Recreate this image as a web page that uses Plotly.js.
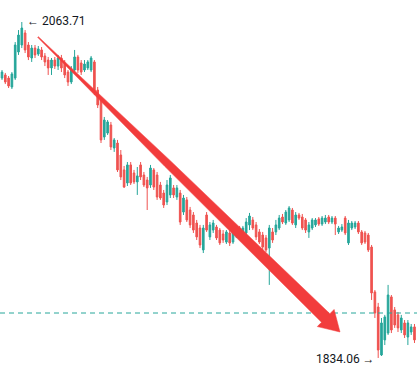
<!DOCTYPE html>
<html>
<head>
<meta charset="utf-8">
<script src="https://cdn.plot.ly/plotly-3.0.1.min.js"></script>
<style>html,body{margin:0;padding:0;background:#fff;}#chart{width:417px;height:380px;}</style>
</head>
<body>
<div id="chart"></div>
<script>
// OHLC price data (one candle per bar)
const opens = [2025.4,2027.5,2025.4,2019.3,2025.4,2043.2,2048.0,2056.2,2048.0,2039.1,
2045.9,2041.8,2044.6,2040.5,2037.7,2032.3,2037.7,2033.6,2039.1,2035.7,
2029.5,2022.7,2030.9,2039.8,2035.7,2030.9,2032.3,2030.9,2036.4,2017.2,
2010.4,1985.1,1987.8,1993.3,1977.6,1981.0,1972.8,1962.6,1953.7,1966.0,
1960.5,1954.4,1966.0,1959.1,1955.7,1952.3,1962.6,1959.1,1952.3,1946.8,
1940.7,1945.5,1950.3,1944.1,1946.8,1933.8,1942.1,1935.2,1931.8,1926.3,
1922.9,1907.9,1931.8,1916.8,1921.5,1923.6,1921.5,1918.8,1913.3,1919.5,
1913.3,1917.4,1922.9,1918.1,1919.5,1925.0,1928.4,1925.0,1920.2,1918.1,
1916.1,1909.2,1920.2,1920.2,1922.9,1930.4,1926.3,1928.4,1935.2,1925.0,
1931.8,1930.4,1928.4,1920.2,1922.9,1925.0,1929.1,1925.6,1927.0,1930.4,
1927.0,1929.7,1920.2,1921.5,1929.7,1912.7,1922.9,1923.6,1926.3,1920.2,
1919.5,1918.1,1909.9,1879.2,1868.9,1836.1,1846.4,1851.1,1875.8,1866.9,
1863.5,1853.2,1858.0,1848.4,1851.8,1855.3];
const highs = [2030.9,2028.9,2026.8,2029.5,2050.0,2058.2,2063.71,2058.2,2050.0,2048.0,
2048.0,2047.3,2046.6,2042.5,2039.8,2039.1,2039.8,2041.2,2041.2,2037.7,
2030.9,2033.6,2044.6,2041.2,2037.7,2037.7,2037.7,2040.5,2037.7,2019.3,
2012.5,1998.8,1996.7,1995.4,1984.4,1983.1,1976.2,1965.3,1968.0,1968.0,
1962.6,1964.6,1968.0,1961.2,1957.8,1966.0,1963.9,1961.2,1954.4,1948.9,
1955.7,1959.1,1952.3,1952.3,1948.9,1945.5,1944.1,1937.3,1933.8,1928.4,
1925.0,1925.0,1933.8,1927.0,1928.4,1925.0,1922.9,1921.5,1921.5,1921.5,
1922.9,1925.0,1924.3,1924.3,1929.7,1933.2,1930.4,1927.0,1922.2,1920.2,
1918.1,1925.0,1922.9,1928.4,1931.8,1932.5,1935.2,1937.9,1936.6,1933.8,
1933.2,1932.5,1929.7,1927.0,1929.7,1929.7,1930.4,1931.1,1931.8,1931.8,
1931.1,1931.1,1924.3,1925.6,1931.1,1928.4,1927.7,1927.7,1927.7,1921.5,
1920.9,1919.5,1911.3,1880.5,1871.7,1861.4,1863.5,1884.0,1877.1,1868.9,
1865.5,1863.5,1860.0,1860.0,1857.3,1857.3];
const lows = [2024.1,2021.3,2018.6,2017.9,2024.1,2041.2,2045.9,2042.5,2037.7,2036.4,
2039.1,2040.5,2037.7,2033.6,2027.5,2027.5,2031.6,2030.9,2029.5,2025.4,
2020.0,2021.3,2029.5,2028.9,2027.5,2029.5,2030.9,2029.5,2013.8,2004.9,
1981.0,1983.1,1986.5,1976.2,1974.9,1961.2,1955.7,1950.3,1951.6,1952.3,
1953.0,1945.5,1955.7,1950.9,1935.2,1950.3,1948.9,1942.1,1942.1,1936.6,
1938.6,1943.4,1943.4,1942.1,1925.0,1931.8,1927.0,1922.9,1919.5,1914.7,
1909.2,1905.8,1920.2,1914.7,1919.5,1914.7,1911.3,1912.7,1912.0,1910.6,
1912.0,1916.1,1916.1,1916.8,1918.1,1921.5,1921.5,1914.7,1912.0,1907.9,
1906.5,1884.0,1912.7,1918.1,1921.5,1925.6,1925.0,1927.0,1925.0,1922.9,
1928.4,1921.5,1919.5,1916.1,1921.5,1923.6,1924.3,1924.3,1925.6,1925.6,
1925.6,1918.1,1918.8,1920.2,1918.1,1911.3,1921.5,1922.2,1918.8,1911.3,
1912.0,1906.5,1873.7,1861.4,1834.06,1835.4,1842.9,1849.8,1851.1,1854.6,
1851.8,1851.1,1847.7,1842.9,1849.8,1844.3];
const closes = [2029.5,2022.7,2020.0,2028.2,2048.0,2054.8,2059.6,2044.6,2039.8,2045.9,
2041.2,2045.3,2039.8,2036.4,2032.3,2037.7,2033.6,2039.1,2032.3,2027.5,
2022.7,2030.9,2039.8,2030.9,2029.5,2035.0,2036.4,2039.1,2015.9,2007.0,
1983.1,1996.7,1995.4,1978.3,1983.1,1962.6,1957.8,1950.9,1966.0,1953.7,
1954.4,1958.5,1957.8,1952.3,1950.3,1963.9,1950.9,1944.1,1943.4,1938.6,
1952.3,1957.1,1945.5,1950.3,1927.0,1943.4,1928.4,1925.0,1921.5,1916.8,
1911.3,1922.9,1921.5,1925.0,1926.3,1916.1,1912.7,1914.7,1920.2,1912.7,
1921.5,1922.9,1917.4,1922.9,1927.0,1931.1,1922.9,1916.8,1913.3,1909.9,
1907.9,1922.9,1914.7,1925.0,1929.7,1927.0,1933.8,1936.6,1926.3,1931.8,
1929.7,1922.9,1921.5,1925.0,1928.4,1928.4,1925.6,1929.7,1929.7,1927.0,
1929.7,1925.6,1922.9,1923.6,1919.5,1926.3,1926.3,1926.3,1920.2,1912.7,
1913.3,1907.9,1878.5,1864.8,1839.5,1858.0,1862.1,1877.1,1853.2,1856.6,
1854.6,1861.4,1849.8,1858.0,1855.3,1846.4];
const bars = opens.map((_, i) => i);
const highLabel = "← 2063.71";
const lowLabel = "1834.06 →";
const refLevel = 1864.8;

const W = 417, H = 380;
const hiIdx = highs.indexOf(Math.max(...highs));
const loIdx = lows.indexOf(Math.min(...lows));

// arrow polygon (annotation drawing), in pixel space converted to paper
const arrowPx = [[37.65,37.36],[80.15,80.27],[164.71,166.36],[321.51,322.29],[317.3,326.6],
  [340,332],[334.1,309.4],[329.89,313.71],[170.29,160.64],[82.25,78.13],[38.35,36.64]];
const arrowPath = arrowPx.map((p, i) => (i ? 'L' : 'M') + (p[0]/W).toFixed(5) + ',' + (1 - p[1]/H).toFixed(5)).join(' ') + ' Z';

const trace = {
  type: 'candlestick',
  x: bars, open: opens, high: highs, low: lows, close: closes,
  increasing: {line: {color: '#26a69a', width: 1}, fillcolor: '#26a69a'},
  decreasing: {line: {color: '#ef5350', width: 1}, fillcolor: '#ef5350'},
  whiskerwidth: 0,
  hoverinfo: 'skip'
};

const layout = {
  width: W, height: H,
  margin: {l: 0, r: 0, t: 0, b: 0},
  paper_bgcolor: '#ffffff', plot_bgcolor: '#ffffff',
  showlegend: false,
  xaxis: {range: [-0.606, 125.76], visible: false, rangeslider: {visible: false}, fixedrange: true},
  yaxis: {range: [1819.0, 2078.75], visible: false, fixedrange: true},
  shapes: [
    {type: 'line', xref: 'paper', x0: 0, x1: 1, yref: 'y', y0: refLevel, y1: refLevel,
     line: {color: '#26a69a', width: 1, dash: '5px,4px'}},
    {type: 'path', xref: 'paper', yref: 'paper', path: arrowPath,
     fillcolor: '#f23c3c', line: {color: '#f23c3c', width: 0.5}}
  ],
  annotations: [
    {x: hiIdx, y: highs[hiIdx], xref: 'x', yref: 'y', text: highLabel, showarrow: false,
     xanchor: 'left', yanchor: 'middle', xshift: 3, yshift: 1,
     font: {family: 'Roboto, sans-serif', size: 12, color: '#131722'}},
    {x: loIdx, y: lows[loIdx], xref: 'x', yref: 'y', text: lowLabel, showarrow: false,
     xanchor: 'right', yanchor: 'middle', xshift: -1, yshift: -1,
     font: {family: 'Roboto, sans-serif', size: 12, color: '#131722'}}
  ]
};

Plotly.newPlot('chart', [trace], layout, {displayModeBar: false, staticPlot: true});
</script>
</body>
</html>
